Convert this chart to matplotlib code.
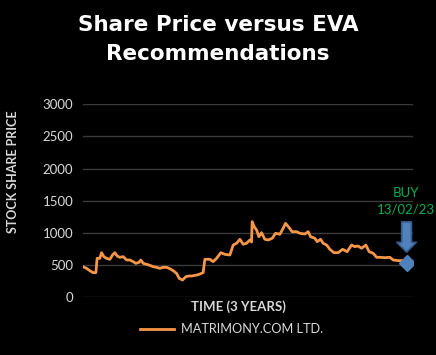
import matplotlib.pyplot as plt

# time axis in months over the 3 years, share price in INR
months = [0.0, 0.40, 0.76, 1.12, 1.42, 1.56, 1.85, 2.04, 2.29, 2.59, 2.95, 3.24, 3.49, 3.74,
          4.04, 4.40, 4.77, 5.13, 5.49, 5.78, 6.14, 6.33, 6.58, 6.95, 7.31, 7.67, 8.04, 8.40,
          8.76, 9.13, 9.49, 9.85, 10.22, 10.51, 10.88, 11.24, 11.53, 11.86, 12.58, 13.12, 13.31,
          13.85, 14.21, 14.59, 15.05, 15.49, 16.04, 16.40, 16.77, 17.13, 17.49, 17.86, 18.22,
          18.40, 18.47, 18.69, 18.95, 19.20, 19.49, 19.85, 20.21, 20.65, 21.02, 21.49, 21.85,
          22.11, 22.47, 22.83, 23.31, 23.67, 24.22, 24.58, 24.84, 25.31, 25.56, 25.93, 26.21,
          26.59, 26.95, 27.38, 27.85, 28.33, 28.83, 29.31, 29.67, 30.03, 30.40, 30.87, 31.23,
          31.67, 32.04, 32.40, 32.95, 33.49, 33.85, 34.40, 34.94, 35.31, 36.0]
price = [476, 451, 414, 383, 383, 606, 606, 694, 632, 606, 591, 658, 694, 642,
         622, 632, 580, 580, 554, 528, 544, 580, 528, 513, 497, 476, 466, 451,
         466, 466, 445, 414, 373, 295, 269, 321, 331, 331, 351, 383, 591,
         591, 554, 606, 694, 668, 658, 813, 840, 902, 824, 840, 891,
         860, 1176, 1098, 1046, 942, 1005, 902, 891, 917, 995, 980, 1073,
         1150, 1088, 1020, 1020, 995, 984, 1020, 942, 917, 865, 902, 840,
         813, 746, 694, 694, 746, 709, 813, 787, 798, 762, 813, 709,
         684, 622, 622, 616, 622, 580, 570, 570, 538, 528]

buy_month = 35.31
buy_price = 540
buy_text = 'BUY\n13/02/23'
yticks = [0, 500, 1000, 1500, 2000, 2500, 3000]

plt.rcParams['font.family'] = ['Lato', 'DejaVu Sans']

fig = plt.figure(figsize=(4.36, 3.55), dpi=100, facecolor='black')
ax = fig.add_axes([0.190, 0.1625, 0.757, 0.5437], facecolor='black')

ax.plot(months, price, color='#f79646', lw=2, label='MATRIMONY.COM LTD.', zorder=3)

# buy arrow + marker
ax.annotate('', xy=(buy_month, 660), xytext=(buy_month, 1215),
            arrowprops=dict(arrowstyle='simple,head_length=0.7,head_width=1.4,tail_width=0.7',
                            fc='#4f81bd', ec='#385d8a', lw=1.2), zorder=4)
ax.plot([buy_month], [buy_price], marker='D', ms=8.5, color='#4f81bd',
        markeredgecolor='#4f81bd', zorder=5)
ax.text(buy_month - 0.05, 1300, buy_text, color='#00b050', fontsize=9.5,
        ha='center', va='baseline', linespacing=1.45)

ax.set_xlim(0, 36)
ax.set_ylim(0, 3000)
ax.set_yticks(yticks)
ax.set_xticks([])
ax.grid(axis='y', color='#3a3a3a', lw=1)
ax.set_axisbelow(True)
for s in ax.spines.values():
    s.set_visible(False)
ax.tick_params(axis='y', length=0, pad=7, labelcolor='#d9d9d9', labelsize=9.5)

fig.text(0.5, 0.888, 'Share Price versus EVA\nRecommendations', color='white',
         fontsize=15.5, fontweight='bold', ha='center', va='center', linespacing=1.55,
         family=['DejaVu Sans'])
fig.text(0.030, 0.516, 'STOCK SHARE PRICE', color='#d9d9d9', fontsize=9,
         fontweight='bold', rotation=90, ha='center', va='center')
fig.text(0.547, 0.135, 'TIME (3 YEARS)', color='#d9d9d9', fontsize=9.5,
         fontweight='bold', ha='center', va='center')

leg = fig.legend(loc='center', bbox_to_anchor=(0.532, 0.073), frameon=False,
                 handlelength=2.6, handletextpad=0.6, fontsize=9.2)
for t in leg.get_texts():
    t.set_color('#d9d9d9')

fig.savefig('out.png', dpi=100, facecolor='black')
